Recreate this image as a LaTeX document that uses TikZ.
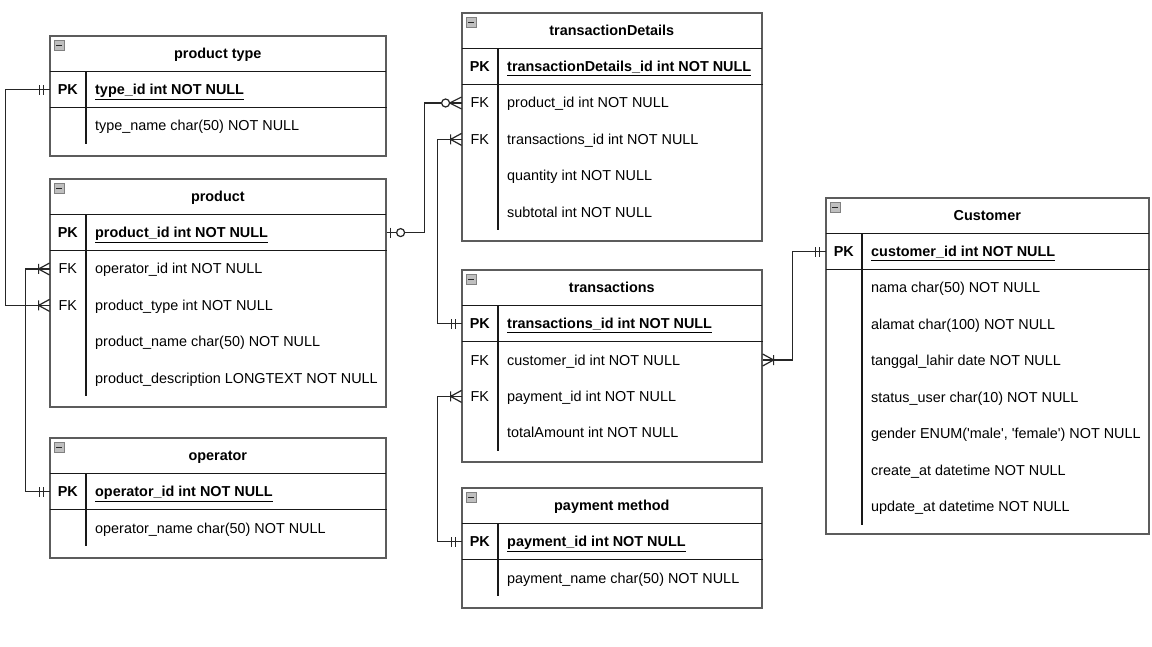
\documentclass[tikz,border=0pt]{standalone}
\usepackage{fontspec}
\setmainfont{Liberation Sans}
\usetikzlibrary{positioning}
\definecolor{tblgray}{HTML}{5C5C5C}
\definecolor{linegray}{HTML}{262626}
\tikzset{
every node/.style={font=\fontsize{14.4}{16}\selectfont, inner sep=0pt, text height=10pt, text depth=0pt},
tbl/.style={draw=tblgray, line width=1.6pt, anchor=north west}, % outer box of a table
hdr/.style={minimum height=36pt, font=\fontsize{14.4}{16}\selectfont\bfseries},
key/.style={minimum width=36pt, minimum height=36pt},
pkkey/.style={key, font=\fontsize{14.4}{16}\selectfont\bfseries},
field/.style={inner xsep=9pt},
sep/.style={draw=black!90, line width=1.3pt},
conn/.style={draw=linegray, line width=1.2pt},
minus/.style={draw=black!50, fill=black!25, minimum size=10pt, anchor=north west,
  path picture={\draw[black!85, line width=1.2pt] ([shift={(2,0)}]path picture bounding box.west) -- ([shift={(-2,0)}]path picture bounding box.east);}},
% relation ends, drawn outward along +x from the table edge
erone/.pic={\draw[conn] (6,-5) -- (6,5) (10,-5) -- (10,5);},
ermany/.pic={\draw[conn] (0,-6) -- (11,0) -- (0,6) (11,-5) -- (11,5);},
erzeromany/.pic={\draw[conn] (0,-6) -- (12,0) -- (0,6); \draw[conn, fill=white] (16,0) circle (4);},
erzeroone/.pic={\draw[conn] (4,-5) -- (4,5); \draw[conn, fill=white] (14,0) circle (4);},
}
\begin{document}
\begin{tikzpicture}[x=1pt, y=-1pt]
\useasboundingbox[fill=white] (0,0) rectangle (1152,647);

% product type
\node[tbl, minimum width=336pt, minimum height=120pt] (ptype) at (49,35) {};
\node[hdr, minimum width=336pt, below=0pt of ptype.north] (ptype-h) {product type};
\node[minus] (ptype-m) at ([shift={(5,5)}]ptype.north west) {};
\node[pkkey, below right=0pt and 0pt of ptype-h.south west] (ptype-pk) {PK};
\node[key, below=0pt of ptype-pk] (ptype-r1) {};
\node[field, right=0pt of ptype-pk] (ptype-pk-f) {\underline{\textbf{type\_id int NOT NULL}}};
\node[field, right=0pt of ptype-r1] (ptype-r1-f) {type\_name char(50) NOT NULL};
\draw[sep] (ptype-h.south west) -- (ptype-h.south east);
\draw[sep] (ptype-pk.south west) -- (ptype-pk.south west -| ptype.east);
\draw[sep] (ptype-pk.north east) -- (ptype-r1.south east);

% product
\node[tbl, minimum width=336pt, minimum height=228pt] (prod) at (49,178) {};
\node[hdr, minimum width=336pt, below=0pt of prod.north] (prod-h) {product};
\node[minus] (prod-m) at ([shift={(5,5)}]prod.north west) {};
\node[pkkey, below right=0pt and 0pt of prod-h.south west] (prod-pk) {PK};
\node[key, below=0pt of prod-pk] (prod-op) {FK};
\node[key, below=0pt of prod-op] (prod-type) {FK};
\node[key, below=0pt of prod-type] (prod-r3) {};
\node[key, below=0pt of prod-r3] (prod-r4) {};
\node[field, right=0pt of prod-pk] (prod-pk-f) {\underline{\textbf{product\_id int NOT NULL}}};
\node[field, right=0pt of prod-op] (prod-op-f) {operator\_id int NOT NULL};
\node[field, right=0pt of prod-type] (prod-type-f) {product\_type int NOT NULL};
\node[field, right=0pt of prod-r3] (prod-r3-f) {product\_name char(50) NOT NULL};
\node[field, right=0pt of prod-r4] (prod-r4-f) {product\_description LONGTEXT NOT NULL};
\draw[sep] (prod-h.south west) -- (prod-h.south east);
\draw[sep] (prod-pk.south west) -- (prod-pk.south west -| prod.east);
\draw[sep] (prod-pk.north east) -- (prod-r4.south east);

% operator
\node[tbl, minimum width=336pt, minimum height=120pt] (oper) at (49,437) {};
\node[hdr, minimum width=336pt, below=0pt of oper.north] (oper-h) {operator};
\node[minus] (oper-m) at ([shift={(5,5)}]oper.north west) {};
\node[pkkey, below right=0pt and 0pt of oper-h.south west] (oper-pk) {PK};
\node[key, below=0pt of oper-pk] (oper-r1) {};
\node[field, right=0pt of oper-pk] (oper-pk-f) {\underline{\textbf{operator\_id int NOT NULL}}};
\node[field, right=0pt of oper-r1] (oper-r1-f) {operator\_name char(50) NOT NULL};
\draw[sep] (oper-h.south west) -- (oper-h.south east);
\draw[sep] (oper-pk.south west) -- (oper-pk.south west -| oper.east);
\draw[sep] (oper-pk.north east) -- (oper-r1.south east);

% transactionDetails
\node[tbl, minimum width=300pt, minimum height=228pt] (td) at (461,12) {};
\node[hdr, minimum width=300pt, below=0pt of td.north] (td-h) {transactionDetails};
\node[minus] (td-m) at ([shift={(5,5)}]td.north west) {};
\node[pkkey, below right=0pt and 0pt of td-h.south west] (td-pk) {PK};
\node[key, below=0pt of td-pk] (td-prod) {FK};
\node[key, below=0pt of td-prod] (td-tr) {FK};
\node[key, below=0pt of td-tr] (td-r3) {};
\node[key, below=0pt of td-r3] (td-r4) {};
\node[field, right=0pt of td-pk] (td-pk-f) {\underline{\textbf{transactionDetails\_id int NOT NULL}}};
\node[field, right=0pt of td-prod] (td-prod-f) {product\_id int NOT NULL};
\node[field, right=0pt of td-tr] (td-tr-f) {transactions\_id int NOT NULL};
\node[field, right=0pt of td-r3] (td-r3-f) {quantity int NOT NULL};
\node[field, right=0pt of td-r4] (td-r4-f) {subtotal int NOT NULL};
\draw[sep] (td-h.south west) -- (td-h.south east);
\draw[sep] (td-pk.south west) -- (td-pk.south west -| td.east);
\draw[sep] (td-pk.north east) -- (td-r4.south east);

% transactions
\node[tbl, minimum width=300pt, minimum height=192pt] (tr) at (461,269) {};
\node[hdr, minimum width=300pt, below=0pt of tr.north] (tr-h) {transactions};
\node[minus] (tr-m) at ([shift={(5,5)}]tr.north west) {};
\node[pkkey, below right=0pt and 0pt of tr-h.south west] (tr-pk) {PK};
\node[key, below=0pt of tr-pk] (tr-cust) {FK};
\node[key, below=0pt of tr-cust] (tr-pay) {FK};
\node[key, below=0pt of tr-pay] (tr-r3) {};
\node[field, right=0pt of tr-pk] (tr-pk-f) {\underline{\textbf{transactions\_id int NOT NULL}}};
\node[field, right=0pt of tr-cust] (tr-cust-f) {customer\_id int NOT NULL};
\node[field, right=0pt of tr-pay] (tr-pay-f) {payment\_id int NOT NULL};
\node[field, right=0pt of tr-r3] (tr-r3-f) {totalAmount int NOT NULL};
\draw[sep] (tr-h.south west) -- (tr-h.south east);
\draw[sep] (tr-pk.south west) -- (tr-pk.south west -| tr.east);
\draw[sep] (tr-pk.north east) -- (tr-r3.south east);

% payment method
\node[tbl, minimum width=300pt, minimum height=120pt] (pay) at (461,487) {};
\node[hdr, minimum width=300pt, below=0pt of pay.north] (pay-h) {payment method};
\node[minus] (pay-m) at ([shift={(5,5)}]pay.north west) {};
\node[pkkey, below right=0pt and 0pt of pay-h.south west] (pay-pk) {PK};
\node[key, below=0pt of pay-pk] (pay-r1) {};
\node[field, right=0pt of pay-pk] (pay-pk-f) {\underline{\textbf{payment\_id int NOT NULL}}};
\node[field, right=0pt of pay-r1] (pay-r1-f) {payment\_name char(50) NOT NULL};
\draw[sep] (pay-h.south west) -- (pay-h.south east);
\draw[sep] (pay-pk.south west) -- (pay-pk.south west -| pay.east);
\draw[sep] (pay-pk.north east) -- (pay-r1.south east);

% Customer
\node[tbl, minimum width=323pt, minimum height=336pt] (cust) at (825,197) {};
\node[hdr, minimum width=323pt, below=0pt of cust.north] (cust-h) {Customer};
\node[minus] (cust-m) at ([shift={(5,5)}]cust.north west) {};
\node[pkkey, below right=0pt and 0pt of cust-h.south west] (cust-pk) {PK};
\node[key, below=0pt of cust-pk] (cust-r1) {};
\node[key, below=0pt of cust-r1] (cust-r2) {};
\node[key, below=0pt of cust-r2] (cust-r3) {};
\node[key, below=0pt of cust-r3] (cust-r4) {};
\node[key, below=0pt of cust-r4] (cust-r5) {};
\node[key, below=0pt of cust-r5] (cust-r6) {};
\node[key, below=0pt of cust-r6] (cust-r7) {};
\node[field, right=0pt of cust-pk] (cust-pk-f) {\underline{\textbf{customer\_id int NOT NULL}}};
\node[field, right=0pt of cust-r1] (cust-r1-f) {nama char(50) NOT NULL};
\node[field, right=0pt of cust-r2] (cust-r2-f) {alamat char(100) NOT NULL};
\node[field, right=0pt of cust-r3] (cust-r3-f) {tanggal\_lahir date NOT NULL};
\node[field, right=0pt of cust-r4] (cust-r4-f) {status\_user char(10) NOT NULL};
\node[field, right=0pt of cust-r5] (cust-r5-f) {gender ENUM(\textquotesingle male\textquotesingle, \textquotesingle female\textquotesingle) NOT NULL};
\node[field, right=0pt of cust-r6] (cust-r6-f) {create\_at datetime NOT NULL};
\node[field, right=0pt of cust-r7] (cust-r7-f) {update\_at datetime NOT NULL};
\draw[sep] (cust-h.south west) -- (cust-h.south east);
\draw[sep] (cust-pk.south west) -- (cust-pk.south west -| cust.east);
\draw[sep] (cust-pk.north east) -- (cust-r7.south east);

% relations
\draw[conn] (ptype-pk.west) -- ++(-44,0) |- (prod-type.west);
\draw[conn] (oper-pk.west) -- ++(-24,0) |- (prod-op.west);
\draw[conn] (prod-pk.west -| prod.east) -- ++(38,0) |- (td-prod.west);
\draw[conn] (tr-pk.west) -- ++(-24,0) |- (td-tr.west);
\draw[conn] (cust-pk.west) -- ++(-33,0) |- (tr-cust.west -| tr.east);
\draw[conn] (pay-pk.west) -- ++(-24,0) |- (tr-pay.west);

\pic[rotate=180] at (ptype-pk.west) {erone};
\pic[rotate=180] at (prod-type.west) {ermany};
\pic[rotate=180] at (oper-pk.west) {erone};
\pic[rotate=180] at (prod-op.west) {ermany};
\pic at (prod-pk.west -| prod.east) {erzeroone};
\pic[rotate=180] at (td-prod.west) {erzeromany};
\pic[rotate=180] at (tr-pk.west) {erone};
\pic[rotate=180] at (td-tr.west) {ermany};
\pic[rotate=180] at (cust-pk.west) {erone};
\pic at (tr-cust.west -| tr.east) {ermany};
\pic[rotate=180] at (pay-pk.west) {erone};
\pic[rotate=180] at (tr-pay.west) {ermany};
\end{tikzpicture}
\end{document}
